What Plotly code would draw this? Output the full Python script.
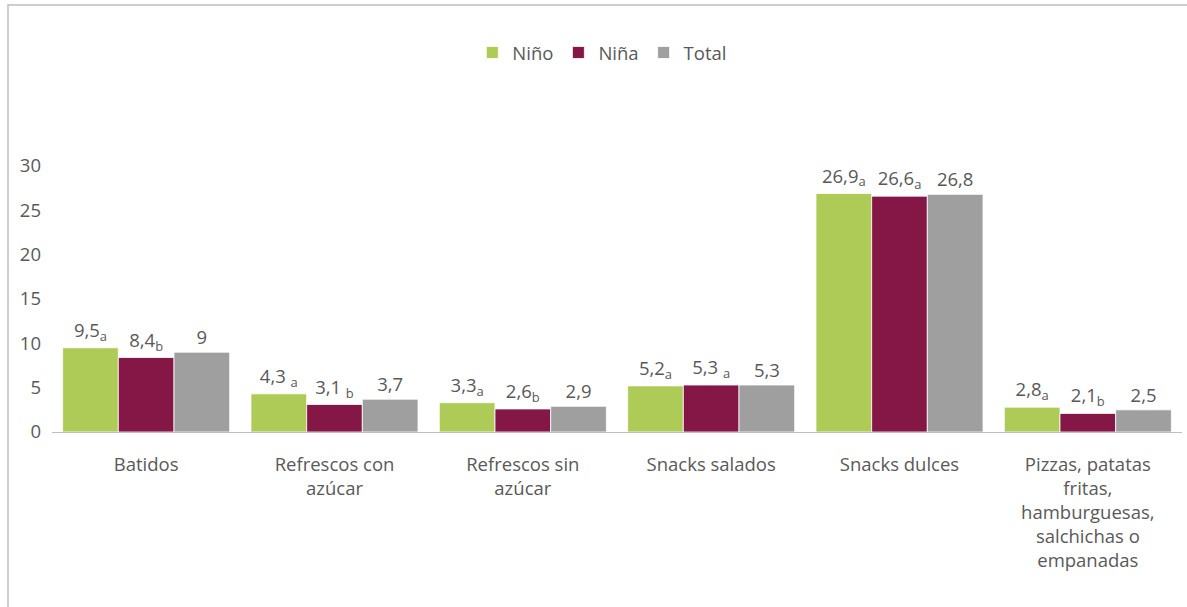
import plotly.graph_objects as go

categories = ["Batidos", "Refrescos con<br>azúcar", "Refrescos sin<br>azúcar", "Snacks salados",
              "Snacks dulces", "Pizzas, patatas<br>fritas,<br>hamburguesas,<br>salchichas o<br>empanadas"]
nino = [9.5, 4.3, 3.3, 5.2, 26.9, 2.8]
nina = [8.4, 3.1, 2.6, 5.3, 26.6, 2.1]
total = [9.0, 3.7, 2.9, 5.3, 26.8, 2.5]
nino_labels = ["9,5<sub>a</sub>", "4,3 <sub>a</sub>", "3,3<sub>a</sub>", "5,2<sub>a</sub>", "26,9<sub>a</sub>", "2,8<sub>a</sub>"]
nina_labels = ["8,4<sub>b</sub>", "3,1 <sub>b</sub>", "2,6<sub>b</sub>", "5,3 <sub>a</sub>", "26,6<sub>a</sub>", "2,1<sub>b</sub>"]
total_labels = ["9", "3,7", "2,9", "5,3", "26,8", "2,5"]
y_ticks = [0, 5, 10, 15, 20, 25, 30]

FONT = "Open Sans"
TXT = "#595959"
FS = 18.5

fig = go.Figure()
for name, vals, labels, color in [("Niño", nino, nino_labels, "#ADCB56"),
                                   ("Niña", nina, nina_labels, "#841746"),
                                   ("Total", total, total_labels, "#9F9F9F")]:
    fig.add_trace(go.Bar(
        name=name, x=categories, y=vals, text=labels, textposition="outside",
        textfont=dict(family=FONT, size=FS, color=TXT), constraintext="none",
        marker=dict(color=color, line=dict(color="white", width=0.8)),
        cliponaxis=False,
    ))

fig.update_layout(
    width=1187, height=607,
    margin=dict(l=52, r=5, t=166, b=175),
    paper_bgcolor="white", plot_bgcolor="white",
    barmode="group", bargap=0.113, bargroupgap=0,
    font=dict(family=FONT, size=FS, color=TXT),
    showlegend=True,
    legend=dict(orientation="h", x=0.487, xanchor="center", y=1.425, yanchor="middle",
                font=dict(family=FONT, size=FS, color=TXT), itemwidth=30, traceorder="normal"),
    xaxis=dict(showline=True, linecolor="#BFBFBF", linewidth=1, ticks="",
               tickfont=dict(family=FONT, size=FS, color=TXT), showgrid=False,
               ticklabelstandoff=16),
    yaxis=dict(range=[0, 30], tickvals=y_ticks, showgrid=False, zeroline=False,
               showline=False, ticks="", tickfont=dict(family=FONT, size=FS, color=TXT),
               ticklabelstandoff=10),
)

fig.add_shape(type="rect", xref="paper", yref="paper",
              x0=(8 - 52) / 1130, x1=(1200 - 52) / 1130,
              y0=-0.9, y1=1 + (166 - 5) / 266,
              line=dict(color="#BFBFBF", width=1.5), fillcolor="rgba(0,0,0,0)", layer="below")

fig.write_html("out.html")
